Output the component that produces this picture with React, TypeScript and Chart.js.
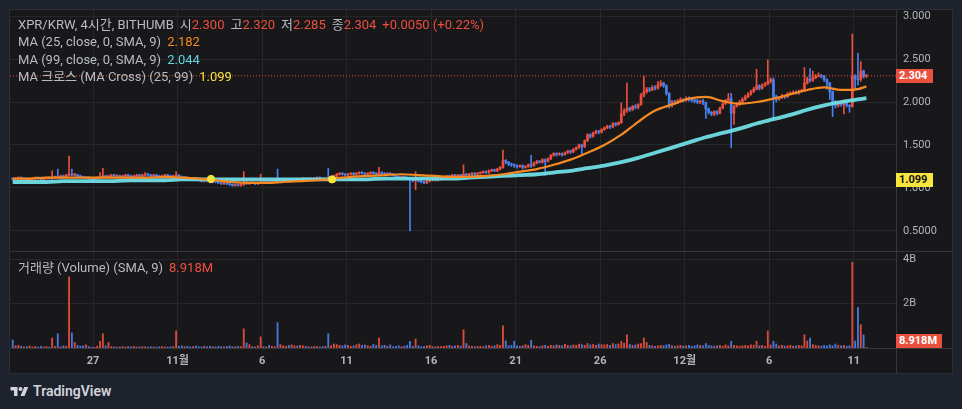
import React, { useEffect, useRef } from "react";
import { Chart, registerables } from "chart.js";
Chart.register(...registerables);

// ---- time: day units (Oct 27 = 27, Nov 1 = 32 ... Dec 11 = 72), 4h candles ----
const FIRST_CANDLE_DAY = 22.25;
const CANDLE_STEP = 1 / 6;
const X_MIN = 22.09;
const X_MAX = 74.5;

const dayTicks = [27, 32, 37, 42, 47, 52, 57, 62, 67, 72];
const dayTickLabels = ["27", "11월", "6", "11", "16", "21", "26", "12월", "6", "11"];

const priceTicks = [0.5, 1.0, 1.5, 2.0, 2.5, 3.0];
const priceTickLabels = ["0.5000", "1.000", "1.500", "2.000", "2.500", "3.000"];
const PRICE_MIN = 0.2674;
const PRICE_MAX = 3.0698;

const volumeTicks = [2, 4];
const volumeTickLabels = ["2B", "4B"];
const VOLUME_MAX = 4.32;

const opens = [
  1.11,1.10,1.11,1.12,1.10,1.11,1.09,1.10,1.11,1.12,
  1.11,1.10,1.11,1.12,1.11,1.12,1.13,1.12,1.14,1.13,
  1.15,1.16,1.15,1.15,1.14,1.13,1.12,1.12,1.11,1.10,
  1.11,1.12,1.13,1.14,1.13,1.14,1.15,1.14,1.14,1.13,
  1.14,1.15,1.14,1.13,1.14,1.15,1.14,1.15,1.16,1.15,
  1.14,1.15,1.14,1.13,1.14,1.15,1.14,1.13,1.14,1.15,
  1.13,1.12,1.12,1.11,1.10,1.11,1.10,1.09,1.08,1.09,
  1.08,1.07,1.08,1.07,1.06,1.05,1.06,1.05,1.04,1.03,
  1.04,1.03,1.04,1.07,1.05,1.06,1.06,1.05,1.06,1.07,
  1.06,1.07,1.06,1.07,1.08,1.07,1.08,1.08,1.09,1.08,
  1.09,1.10,1.09,1.10,1.11,1.10,1.11,1.10,1.11,1.12,
  1.11,1.10,1.11,1.10,1.12,1.14,1.16,1.17,1.16,1.15,
  1.16,1.17,1.16,1.17,1.18,1.17,1.16,1.17,1.18,1.17,
  1.16,1.18,1.17,1.16,1.17,1.16,1.15,1.13,1.12,1.13,
  1.12,1.11,1.10,1.09,1.10,1.08,1.07,1.06,1.08,1.09,
  1.10,1.09,1.10,1.11,1.12,1.14,1.13,1.15,1.14,1.15,
  1.14,1.16,1.15,1.16,1.17,1.16,1.17,1.18,1.19,1.18,
  1.20,1.21,1.20,1.22,1.24,1.32,1.30,1.28,1.27,1.26,
  1.25,1.26,1.24,1.25,1.27,1.26,1.29,1.31,1.30,1.33,
  1.31,1.34,1.38,1.40,1.39,1.40,1.39,1.41,1.43,1.42,
  1.45,1.47,1.50,1.48,1.55,1.62,1.60,1.64,1.66,1.65,
  1.68,1.70,1.72,1.71,1.75,1.74,1.76,1.86,1.90,1.93,
  1.91,1.95,1.94,1.97,2.08,2.12,2.15,2.14,2.17,2.16,
  2.20,2.22,2.19,2.10,1.96,2.00,1.99,2.01,2.03,2.02,
  2.04,2.03,2.02,2.01,2.00,2.01,1.99,1.92,1.88,1.86,
  1.89,1.87,1.93,1.98,2.02,2.04,1.87,1.95,1.97,2.00,
  2.03,2.06,2.09,2.12,2.15,2.19,2.16,2.19,2.21,2.24,
  2.26,2.06,2.03,2.05,2.07,2.06,2.09,2.10,2.11,2.10,
  2.12,2.13,2.22,2.27,2.25,2.28,2.30,2.31,2.30,2.26,
  2.22,2.12,2.00,1.96,1.99,1.97,2.00,1.96,1.95,2.30,
  2.27,2.26,2.36,2.300,
];

const highs = [
  1.12,1.12,1.13,1.13,1.12,1.12,1.11,1.12,1.13,1.13,
  1.12,1.12,1.13,1.13,1.20,1.14,1.22,1.15,1.15,1.16,
  1.37,1.22,1.17,1.16,1.15,1.14,1.13,1.13,1.12,1.12,
  1.13,1.18,1.23,1.15,1.15,1.16,1.16,1.15,1.15,1.15,
  1.16,1.16,1.15,1.15,1.16,1.16,1.16,1.18,1.17,1.16,
  1.16,1.16,1.15,1.15,1.16,1.16,1.15,1.15,1.19,1.16,
  1.14,1.13,1.13,1.12,1.12,1.12,1.11,1.10,1.10,1.10,
  1.09,1.09,1.09,1.08,1.07,1.07,1.07,1.06,1.05,1.05,
  1.05,1.05,1.19,1.08,1.07,1.07,1.07,1.07,1.16,1.08,
  1.08,1.08,1.08,1.09,1.22,1.09,1.09,1.10,1.10,1.10,
  1.11,1.11,1.11,1.12,1.12,1.12,1.12,1.12,1.13,1.13,
  1.12,1.12,1.23,1.13,1.15,1.17,1.18,1.18,1.17,1.17,
  1.18,1.18,1.18,1.19,1.19,1.18,1.18,1.19,1.19,1.18,
  1.24,1.19,1.18,1.18,1.18,1.17,1.16,1.14,1.14,1.14,
  1.13,1.12,1.11,1.19,1.11,1.09,1.08,1.09,1.10,1.11,
  1.11,1.11,1.12,1.13,1.15,1.15,1.16,1.16,1.16,1.16,
  1.27,1.17,1.17,1.18,1.18,1.18,1.19,1.20,1.20,1.21,
  1.22,1.22,1.23,1.25,1.44,1.33,1.31,1.29,1.28,1.27,
  1.27,1.27,1.26,1.28,1.38,1.30,1.32,1.32,1.34,1.34,
  1.35,1.39,1.41,1.41,1.41,1.41,1.42,1.44,1.44,1.46,
  1.48,1.51,1.51,1.56,1.63,1.63,1.65,1.67,1.67,1.69,
  1.71,1.73,1.73,1.76,1.76,1.77,1.99,1.92,2.22,1.94,
  1.96,1.97,1.98,2.10,2.30,2.17,2.17,2.19,2.19,2.24,
  2.25,2.23,2.20,2.11,2.02,2.02,2.03,2.05,2.04,2.06,
  2.06,2.05,2.04,2.03,2.02,2.03,2.00,1.93,1.89,1.90,
  1.90,1.94,1.99,2.03,2.10,2.10,1.96,1.99,2.02,2.05,
  2.08,2.11,2.14,2.17,2.38,2.20,2.21,2.23,2.49,2.28,
  2.28,2.08,2.06,2.09,2.08,2.11,2.12,2.13,2.13,2.14,
  2.15,2.40,2.29,2.39,2.36,2.32,2.34,2.32,2.31,2.27,
  2.23,2.13,2.02,2.01,2.00,2.02,2.01,1.97,2.79,2.32,
  2.57,2.47,2.37,2.320,
];

const lows = [
  1.09,1.10,1.10,1.09,1.10,1.08,1.08,1.09,1.10,1.10,
  1.09,1.09,1.10,1.10,1.10,1.11,1.11,1.11,1.12,1.12,
  1.14,1.14,1.14,1.13,1.12,1.11,1.11,1.10,1.09,1.09,
  1.10,1.11,1.12,1.12,1.12,1.13,1.13,1.13,1.12,1.12,
  1.13,1.13,1.12,1.12,1.13,1.13,1.13,1.14,1.14,1.13,
  1.13,1.13,1.12,1.12,1.13,1.13,1.12,1.12,1.13,1.12,
  1.11,1.11,1.10,1.09,1.09,1.09,1.08,1.07,1.07,1.07,
  1.06,1.06,1.06,1.05,1.04,1.04,1.04,1.03,1.02,1.02,
  1.02,1.02,1.03,1.04,1.04,1.05,1.04,1.04,1.05,1.05,
  1.05,1.05,1.05,1.06,1.06,1.06,1.07,1.07,1.07,1.07,
  1.08,1.08,1.08,1.09,1.09,1.09,1.09,1.09,1.10,1.10,
  1.09,1.09,1.09,1.09,1.11,1.13,1.15,1.15,1.14,1.14,
  1.15,1.15,1.15,1.16,1.16,1.15,1.15,1.16,1.16,1.15,
  1.15,1.16,1.15,1.15,1.15,1.14,1.12,1.11,1.11,1.11,
  1.10,0.50,1.07,0.98,1.07,1.06,1.05,1.05,1.07,1.08,
  1.08,1.08,1.09,1.10,1.11,1.12,1.12,1.13,1.13,1.13,
  1.13,1.14,1.14,1.15,1.15,1.15,1.16,1.17,1.17,1.17,
  1.19,1.19,1.19,1.21,1.23,1.28,1.26,1.25,1.24,1.23,
  1.24,1.22,1.23,1.24,1.24,1.25,1.28,1.29,1.29,1.15,
  1.30,1.33,1.37,1.37,1.38,1.37,1.38,1.40,1.40,1.41,
  1.44,1.46,1.40,1.47,1.54,1.58,1.59,1.63,1.63,1.64,
  1.67,1.69,1.69,1.70,1.72,1.73,1.75,1.84,1.88,1.89,
  1.90,1.92,1.92,1.96,2.06,2.10,2.12,2.13,2.14,2.15,
  2.18,2.17,2.08,1.93,1.94,1.97,1.98,2.00,2.00,2.01,
  2.01,2.00,1.99,1.98,1.98,1.97,1.81,1.86,1.84,1.84,
  1.85,1.86,1.92,1.97,2.01,1.47,1.74,1.94,1.96,1.99,
  2.02,2.05,2.08,2.11,2.14,2.14,2.15,2.18,2.20,2.22,
  1.80,2.00,2.02,2.04,2.04,2.05,2.08,2.09,2.09,2.09,
  2.11,2.12,2.21,2.23,2.24,2.27,2.29,2.28,2.24,2.15,
  2.03,1.83,1.93,1.94,1.95,1.86,1.94,1.88,1.94,2.16,
  2.20,2.24,2.28,2.285,
];

const closes = [
  1.10,1.11,1.12,1.10,1.11,1.09,1.10,1.11,1.12,1.11,
  1.10,1.11,1.12,1.11,1.12,1.13,1.12,1.14,1.13,1.15,
  1.16,1.15,1.15,1.14,1.13,1.12,1.12,1.11,1.10,1.11,
  1.12,1.13,1.14,1.13,1.14,1.15,1.14,1.14,1.13,1.14,
  1.15,1.14,1.13,1.14,1.15,1.14,1.15,1.16,1.15,1.14,
  1.15,1.14,1.13,1.14,1.15,1.14,1.13,1.14,1.15,1.13,
  1.12,1.12,1.11,1.10,1.11,1.10,1.09,1.08,1.09,1.08,
  1.07,1.08,1.07,1.06,1.05,1.06,1.05,1.04,1.03,1.04,
  1.03,1.04,1.07,1.05,1.06,1.06,1.05,1.06,1.07,1.06,
  1.07,1.06,1.07,1.08,1.07,1.08,1.08,1.09,1.08,1.09,
  1.10,1.09,1.10,1.11,1.10,1.11,1.10,1.11,1.12,1.11,
  1.10,1.11,1.10,1.12,1.14,1.16,1.17,1.16,1.15,1.16,
  1.17,1.16,1.17,1.18,1.17,1.16,1.17,1.18,1.17,1.16,
  1.18,1.17,1.16,1.17,1.16,1.15,1.13,1.12,1.13,1.12,
  1.11,1.10,1.09,1.10,1.08,1.07,1.06,1.08,1.09,1.10,
  1.09,1.10,1.11,1.12,1.14,1.13,1.15,1.14,1.15,1.14,
  1.16,1.15,1.16,1.17,1.16,1.17,1.18,1.19,1.18,1.20,
  1.21,1.20,1.22,1.24,1.32,1.30,1.28,1.27,1.26,1.25,
  1.26,1.24,1.25,1.27,1.26,1.29,1.31,1.30,1.33,1.31,
  1.34,1.38,1.40,1.39,1.40,1.39,1.41,1.43,1.42,1.45,
  1.47,1.50,1.48,1.55,1.62,1.60,1.64,1.66,1.65,1.68,
  1.70,1.72,1.71,1.75,1.74,1.76,1.86,1.90,1.93,1.91,
  1.95,1.94,1.97,2.08,2.12,2.15,2.14,2.17,2.16,2.20,
  2.22,2.19,2.10,1.96,2.00,1.99,2.01,2.03,2.02,2.04,
  2.03,2.02,2.01,2.00,2.01,1.99,1.92,1.88,1.86,1.89,
  1.87,1.93,1.98,2.02,2.04,1.87,1.95,1.97,2.00,2.03,
  2.06,2.09,2.12,2.15,2.19,2.16,2.19,2.21,2.24,2.26,
  2.06,2.03,2.05,2.07,2.06,2.09,2.10,2.11,2.10,2.12,
  2.13,2.22,2.27,2.25,2.28,2.30,2.31,2.30,2.26,2.22,
  2.12,2.00,1.96,1.99,1.97,2.00,1.96,1.95,2.30,2.27,
  2.26,2.36,2.30,2.304,
];

// volume in billions (B)
const volumes = [
  0.36,0.10,0.12,0.08,0.05,0.06,0.09,0.05,0.07,0.04,
  0.08,0.05,0.06,0.04,0.45,0.06,0.64,0.05,0.10,0.08,
  3.20,0.68,0.25,0.12,0.08,0.10,0.14,0.06,0.04,0.03,
  0.08,0.30,0.64,0.10,0.25,0.06,0.05,0.04,0.05,0.06,
  0.04,0.06,0.05,0.07,0.04,0.05,0.06,0.05,0.04,0.06,
  0.05,0.04,0.05,0.06,0.05,0.04,0.05,0.06,0.77,0.08,
  0.10,0.06,0.08,0.05,0.06,0.09,0.06,0.05,0.08,0.06,
  0.07,0.06,0.05,0.08,0.06,0.05,0.07,0.09,0.05,0.06,
  0.07,0.06,0.86,0.23,0.15,0.06,0.05,0.10,0.50,0.06,
  0.05,0.12,0.08,0.06,1.14,0.15,0.10,0.08,0.12,0.14,
  0.10,0.09,0.12,0.10,0.08,0.06,0.05,0.07,0.06,0.05,
  0.06,0.08,0.64,0.10,0.18,0.15,0.12,0.10,0.14,0.12,
  0.08,0.10,0.15,0.18,0.12,0.14,0.10,0.08,0.16,0.12,
  0.45,0.10,0.12,0.08,0.14,0.06,0.08,0.10,0.06,0.08,
  0.12,0.30,0.08,0.40,0.10,0.06,0.08,0.10,0.12,0.06,
  0.05,0.07,0.06,0.08,0.10,0.12,0.08,0.10,0.12,0.08,
  0.82,0.20,0.10,0.08,0.06,0.07,0.08,0.06,0.10,0.12,
  0.08,0.10,0.15,0.12,1.00,0.32,0.10,0.12,0.30,0.10,
  0.08,0.10,0.15,0.12,0.35,0.10,0.08,0.06,0.10,0.12,
  0.08,0.12,0.10,0.14,0.12,0.10,0.16,0.12,0.10,0.14,
  0.12,0.18,0.15,0.12,0.20,0.14,0.16,0.12,0.18,0.15,
  0.14,0.16,0.12,0.20,0.15,0.18,0.30,0.22,0.59,0.16,
  0.12,0.14,0.18,0.20,0.45,0.25,0.12,0.10,0.08,0.10,
  0.12,0.10,0.14,0.16,0.10,0.08,0.10,0.12,0.08,0.10,
  0.12,0.08,0.10,0.14,0.12,0.10,0.20,0.12,0.10,0.08,
  0.10,0.12,0.08,0.14,0.10,0.30,0.12,0.10,0.08,0.10,
  0.12,0.10,0.14,0.12,0.30,0.10,0.12,0.08,0.77,0.14,
  0.30,0.18,0.10,0.12,0.08,0.10,0.12,0.08,0.10,0.12,
  0.10,0.59,0.32,0.45,0.15,0.12,0.10,0.08,0.12,0.10,
  0.14,0.10,0.18,0.12,0.10,0.12,0.08,0.10,3.86,0.32,
  1.82,1.05,0.59,0.02,
];

// moving averages sampled once per day (every 6th candle) plus the last candle
const ma25 = [
  1.11,1.11,1.12,1.12,1.12,1.12,1.12,1.12,1.12,1.13,
  1.12,1.11,1.09,1.07,1.06,1.06,1.07,1.08,1.09,1.11,
  1.13,1.14,1.15,1.16,1.15,1.14,1.13,1.13,1.14,1.16,
  1.19,1.22,1.27,1.33,1.41,1.50,1.62,1.77,1.90,1.97,
  2.04,2.06,2.01,1.98,2.00,2.04,2.09,2.14,2.17,2.14,
  2.15,2.182,
];
const ma99 = [
  1.07,1.07,1.07,1.08,1.08,1.08,1.08,1.09,1.09,1.09,
  1.10,1.10,1.10,1.10,1.10,1.10,1.10,1.10,1.10,1.10,
  1.10,1.10,1.11,1.11,1.11,1.11,1.11,1.12,1.13,1.14,
  1.15,1.16,1.18,1.20,1.23,1.26,1.30,1.35,1.41,1.47,
  1.53,1.59,1.64,1.69,1.75,1.80,1.85,1.91,1.96,2.00,
  2.03,2.044,
];

const crossDays = [33.98, 41.14];
const crossValues = [1.105, 1.1];

const UP = "#ec4f3e";
const DOWN = "#4a80ee";
const GRID = "#27272b";
const TICK = "#b2b5be";
const FONT = 'Roboto, "Noto Sans CJK KR", sans-serif';

const candleDay = (i: number) => FIRST_CANDLE_DAY + i * CANDLE_STEP;
const maDay = (k: number, n: number) => (k === n - 1 ? candleDay(closes.length - 1) : candleDay(k * 6));

// draws the right-hand value labels of the y scale (keeps the plot area full-height)
const rightLabels = (values: number[], labels: string[]) => ({
  id: "rightLabels",
  afterDraw(chart: any) {
    const s = chart.scales.y;
    const ctx = chart.ctx;
    ctx.save();
    ctx.fillStyle = TICK;
    ctx.font = `11px ${FONT}`;
    ctx.textAlign = "left";
    ctx.textBaseline = "middle";
    values.forEach((v, i) => {
      ctx.fillText(labels[i], chart.chartArea.right + 7, s.getPixelForValue(v));
    });
    ctx.restore();
  },
});

const fixedYScale = (min: number, max: number, ticks: number[]) => ({
  position: "right",
  min,
  max,
  afterBuildTicks: (s: any) => {
    s.ticks = ticks.map((v) => ({ value: v }));
  },
  ticks: { display: false },
  grid: { color: GRID, drawTicks: false },
  border: { display: false },
  afterFit: (s: any) => {
    s.width = 56;
  },
});

function MainChart() {
  const ref = useRef<HTMLCanvasElement>(null);
  useEffect(() => {
    const n = closes.length;
    const idx = Array.from({ length: n }, (_, i) => i);
    const colors = idx.map((i) => (closes[i] >= opens[i] ? UP : DOWN));
    const last = closes[n - 1];
    const chart = new Chart(ref.current!, {
      type: "bar",
      data: {
        datasets: [
          {
            type: "line",
            data: crossDays.map((d, i) => ({ x: d, y: crossValues[i] })),
            showLine: false,
            pointRadius: 3.6,
            pointBackgroundColor: "#f7e43a",
            pointBorderColor: "#f7e43a",
            order: 0,
          } as any,
          {
            type: "line",
            data: ma25.map((v, k) => ({ x: maDay(k, ma25.length), y: v })),
            borderColor: "#f58a22",
            borderWidth: 2.2,
            pointRadius: 0,
            cubicInterpolationMode: "monotone",
            order: 1,
          } as any,
          {
            type: "line",
            data: ma99.map((v, k) => ({ x: maDay(k, ma99.length), y: v })),
            borderColor: "rgba(112,222,230,0.95)",
            borderWidth: 3.8,
            pointRadius: 0,
            cubicInterpolationMode: "monotone",
            order: 2,
          } as any,
          {
            type: "line",
            data: [
              { x: X_MIN, y: last },
              { x: X_MAX, y: last },
            ],
            borderColor: UP,
            borderWidth: 1,
            borderDash: [1, 2],
            pointRadius: 0,
            order: 3,
          } as any,
          {
            data: idx.map((i) => ({ x: candleDay(i), y: [opens[i], closes[i]] })),
            backgroundColor: colors,
            barThickness: 2,
            minBarLength: 1,
            grouped: false,
            order: 4,
          } as any,
          {
            data: idx.map((i) => ({ x: candleDay(i), y: [lows[i], highs[i]] })),
            backgroundColor: colors,
            barThickness: 1,
            grouped: false,
            order: 5,
          } as any,
        ],
      },
      options: {
        animation: false,
        responsive: false,
        devicePixelRatio: 1,
        layout: { padding: 0, autoPadding: false },
        plugins: { legend: { display: false }, tooltip: { enabled: false } },
        scales: {
          x: {
            type: "linear",
            min: X_MIN,
            max: X_MAX,
            offset: false,
            afterBuildTicks: (s: any) => {
              s.ticks = dayTicks.map((v) => ({ value: v }));
            },
            ticks: { display: false },
            grid: { color: GRID, drawTicks: false, offset: false },
            border: { display: false },
            afterFit: (s: any) => {
              s.height = 0;
            },
          },
          y: fixedYScale(PRICE_MIN, PRICE_MAX, priceTicks),
        },
      } as any,
      plugins: [rightLabels(priceTicks, priceTickLabels)],
    });
    return () => chart.destroy();
  }, []);
  return (
    <canvas
      ref={ref}
      width={942}
      height={241}
      style={{ position: "absolute", left: 10, top: 10, width: 942, height: 241 }}
    />
  );
}

function VolumeChart() {
  const ref = useRef<HTMLCanvasElement>(null);
  useEffect(() => {
    const n = volumes.length;
    const idx = Array.from({ length: n }, (_, i) => i);
    const colors = idx.map((i) => (closes[i] >= opens[i] ? "rgba(236,79,62,0.92)" : "rgba(74,128,238,0.92)"));
    const chart = new Chart(ref.current!, {
      type: "bar",
      data: {
        datasets: [
          {
            data: idx.map((i) => ({ x: candleDay(i), y: volumes[i] })),
            backgroundColor: colors,
            barThickness: 1.2,
            grouped: false,
          } as any,
        ],
      },
      options: {
        animation: false,
        responsive: false,
        devicePixelRatio: 1,
        layout: { padding: 0, autoPadding: false },
        plugins: { legend: { display: false }, tooltip: { enabled: false } },
        scales: {
          x: {
            type: "linear",
            min: X_MIN,
            max: X_MAX,
            offset: false,
            afterBuildTicks: (s: any) => {
              s.ticks = dayTicks.map((v) => ({ value: v }));
            },
            ticks: {
              callback: (_v: any, i: number) => dayTickLabels[i],
              color: TICK,
              font: { family: FONT, size: 11, weight: "bold" },
              padding: 7,
              maxRotation: 0,
              autoSkip: false,
            },
            grid: { color: GRID, drawTicks: false, offset: false },
            border: { display: false },
            afterFit: (s: any) => {
              s.height = 25;
              s.paddingLeft = 0;
              s.paddingRight = 0;
            },
          },
          y: fixedYScale(0, VOLUME_MAX, volumeTicks),
        },
      } as any,
      plugins: [rightLabels(volumeTicks, volumeTickLabels)],
    });
    return () => chart.destroy();
  }, []);
  return (
    <canvas
      ref={ref}
      width={942}
      height={121}
      style={{ position: "absolute", left: 10, top: 252, width: 942, height: 121 }}
    />
  );
}

const gray = "#b8bbc3";

function Legend() {
  const line: React.CSSProperties = { height: 17.4, lineHeight: "17.4px", whiteSpace: "nowrap" };
  const lab = (t: string) => <span style={{ color: gray }}>{t}</span>;
  const val = (t: string, c: string) => <span style={{ color: c }}>{t}</span>;
  return (
    <div style={{ position: "absolute", left: 18, top: 16, fontFamily: FONT, fontSize: 13 }}>
      <div style={line}>
        {lab("XPR/KRW, 4시간, BITHUMB")}
        <span style={{ marginLeft: 6 }}>{lab("시")}</span>
        {val("2.300", UP)}
        <span style={{ marginLeft: 6 }}>{lab("고")}</span>
        {val("2.320", UP)}
        <span style={{ marginLeft: 6 }}>{lab("저")}</span>
        {val("2.285", UP)}
        <span style={{ marginLeft: 6 }}>{lab("종")}</span>
        {val("2.304", UP)}
        <span style={{ marginLeft: 6 }}>{val("+0.0050 (+0.22%)", UP)}</span>
      </div>
      <div style={line}>
        {lab("MA (25, close, 0, SMA, 9)")}
        <span style={{ marginLeft: 6 }}>{val("2.182", "#f58a22")}</span>
      </div>
      <div style={line}>
        {lab("MA (99, close, 0, SMA, 9)")}
        <span style={{ marginLeft: 6 }}>{val("2.044", "#5fd6e2")}</span>
      </div>
      <div style={line}>
        {lab("MA 크로스 (MA Cross) (25, 99)")}
        <span style={{ marginLeft: 6 }}>{val("1.099", "#f5e33a")}</span>
      </div>
    </div>
  );
}

function PriceBox({ top, left, width, bg, color, text }: any) {
  return (
    <div
      style={{
        position: "absolute",
        left,
        top,
        width,
        height: 14,
        background: bg,
        color,
        fontFamily: FONT,
        fontSize: 11,
        fontWeight: "bold",
        lineHeight: "14px",
        paddingLeft: 3,
        boxSizing: "border-box",
      }}
    >
      {text}
    </div>
  );
}

export default function App() {
  useEffect(() => {
    document.body.style.margin = "0";
    document.body.style.background = "#1e222d";
  }, []);
  return (
    <div
      style={{
        position: "absolute",
        left: 0,
        top: 0,
        width: 962,
        height: 409,
        background: "#1e222d",
        overflow: "hidden",
      }}
    >
      <div
        style={{
          position: "absolute",
          left: 9,
          top: 9,
          width: 944,
          height: 365,
          background: "#18181b",
          border: "1px solid #2a2e39",
          boxSizing: "border-box",
        }}
      />
      <MainChart />
      <VolumeChart />
      {/* pane separators */}
      <div style={{ position: "absolute", left: 896, top: 10, width: 1, height: 363, background: "#34363c" }} />
      <div style={{ position: "absolute", left: 10, top: 251, width: 942, height: 1, background: "#34363c" }} />
      <div style={{ position: "absolute", left: 10, top: 348, width: 942, height: 1, background: "#34363c" }} />
      <Legend />
      <div style={{ position: "absolute", left: 18, top: 259, fontFamily: FONT, fontSize: 13, lineHeight: "17px", whiteSpace: "nowrap" }}>
        <span style={{ color: gray }}>거래량 (Volume) (SMA, 9)</span>
        <span style={{ color: UP, marginLeft: 6 }}>8.918M</span>
      </div>
      <PriceBox left={896} top={69} width={37} bg="#e9503e" color="#ffffff" text="2.304" />
      <PriceBox left={896} top={173} width={37} bg="#f7e63c" color="#131313" text="1.099" />
      <PriceBox left={896} top={334} width={46} bg="#e9503e" color="#ffffff" text="8.918M" />
      {/* footer logo */}
      <svg style={{ position: "absolute", left: 10, top: 385 }} width="19" height="14" viewBox="0 0 36 28">
        <path d="M14 22H7V11H0V4h14v18zM28 22h-8l7.5-18h8L28 22z" fill="#d1d4dc" />
        <circle cx="20" cy="8" r="4" fill="#d1d4dc" />
      </svg>
      <div
        style={{
          position: "absolute",
          left: 33,
          top: 382,
          fontFamily: FONT,
          fontSize: 14,
          fontWeight: 600,
          color: "#d1d4dc",
          lineHeight: "18px",
        }}
      >
        TradingView
      </div>
    </div>
  );
}
